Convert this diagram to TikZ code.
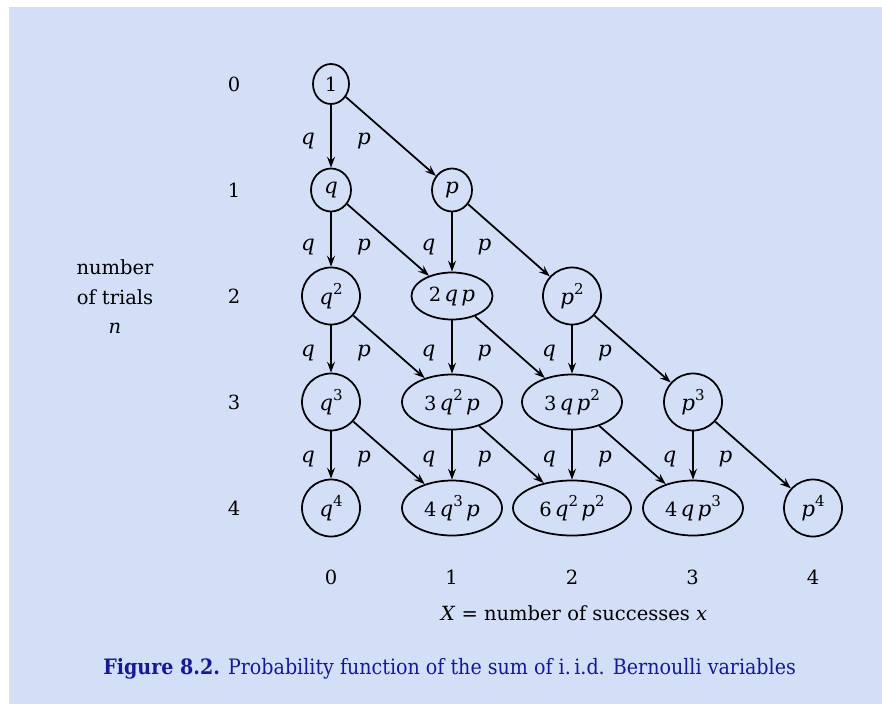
\documentclass[tikz,border=0pt]{standalone}
\usepackage{fontspec}
\setmainfont{DejaVu Serif}
\newfontfamily\capfont{DejaVu Serif Condensed}
\usetikzlibrary{arrows.meta,shapes.geometric}
\definecolor{panel}{RGB}{211,222,247}
\definecolor{capblue}{RGB}{24,24,150}
% raised exponent and italic symbols
\newcommand\ex[1]{\raisebox{0.5em}{\fontsize{15}{15}\selectfont #1}}
\newcommand\iq{{\fontsize{21.5}{23}\selectfont\textit{q}}}
\newcommand\ip{{\fontsize{21.5}{23}\selectfont\textit{p}}}
\begin{document}
\begin{tikzpicture}[x=1pt,y=-1pt,
  font=\fontsize{19.5}{23}\selectfont,
  state/.style={draw, ellipse, line width=1.75pt, inner sep=0pt},
  small/.style={state, minimum width=36pt, minimum height=40pt},
  mid/.style={state, minimum width=58pt, minimum height=57pt},
  wide/.style={state, minimum width=100pt, minimum height=55pt},
  flow/.style={line width=1.75pt, -{Stealth[length=11pt,width=8pt,inset=4pt]}},
  lbl/.style={inner sep=0pt}]
\useasboundingbox (0,0) rectangle (882,704);
\fill[panel] (9,7) rectangle (882,704);

% lattice of probabilities
\node[small] (n00) at (331,84) {1};
\node[small, minimum width=40pt, minimum height=43pt] (n10) at (331,190) {\iq};
\node[small, minimum width=40pt, minimum height=43pt] (n11) at (452,190) {\ip};
\node[mid] (n20) at (331,296) {\iq\ex{2}};
\node[state, minimum width=81pt, minimum height=47pt] (n21) at (452,296) {2\,\iq\,\ip};
\node[mid] (n22) at (572,296) {\ip\ex{2}};
\node[mid] (n30) at (331,402) {\iq\ex{3}};
\node[wide] (n31) at (452,402) {3\,\iq\ex{2}\,\ip};
\node[wide] (n32) at (572,402) {3\,\iq\,\ip\ex{2}};
\node[mid] (n33) at (693,402) {\ip\ex{3}};
\node[mid] (n40) at (331,508) {\iq\ex{4}};
\node[wide] (n41) at (452,508) {4\,\iq\ex{3}\,\ip};
\node[wide, minimum width=118pt] (n42) at (572,508) {6\,\iq\ex{2}\,\ip\ex{2}};
\node[wide] (n43) at (693,508) {4\,\iq\,\ip\ex{3}};
\node[mid] (n44) at (813,508) {\ip\ex{4}};

% transitions with their probabilities
\foreach \r/\s/\ym in {0/1/141,1/2/247,2/3/353,3/4/459}{
  \foreach \c in {0,...,\r}{
    \pgfmathtruncatemacro\d{\c+1}
    \pgfmathsetmacro\xc{331+120.5*\c}
    \draw[flow] (n\r\c) -- (n\s\c);
    \draw[flow] (n\r\c) -- (n\s\d);
    \node[lbl] (q\r\c) at (\xc-23,\ym) {\iq};
    \node[lbl] (p\r\c) at (\xc+33,\ym) {\ip};
  }
}

% row and column indices
\foreach \r in {0,...,4}
  \node[lbl] (row\r) at (234,84+106*\r) {\r};
\foreach \c in {0,...,4}
  \node[lbl] (col\c) at (331+120.5*\c,577) {\c};

\node[lbl, align=center, font=\fontsize{19.5}{29.5}\selectfont] (trials) at (115,297)
  {number\\of trials\\\textit{n}};
\node[lbl] (succ) at (574,613) {\textit{X} = number of successes \textit{x}};
\node[lbl, text=capblue, font=\capfont\fontsize{21.2}{25}\selectfont] (cap) at (449.5,669)
  {\textbf{Figure 8.2.} Probability function of the sum of i.\,i.d. Bernoulli variables};
\end{tikzpicture}
\end{document}
